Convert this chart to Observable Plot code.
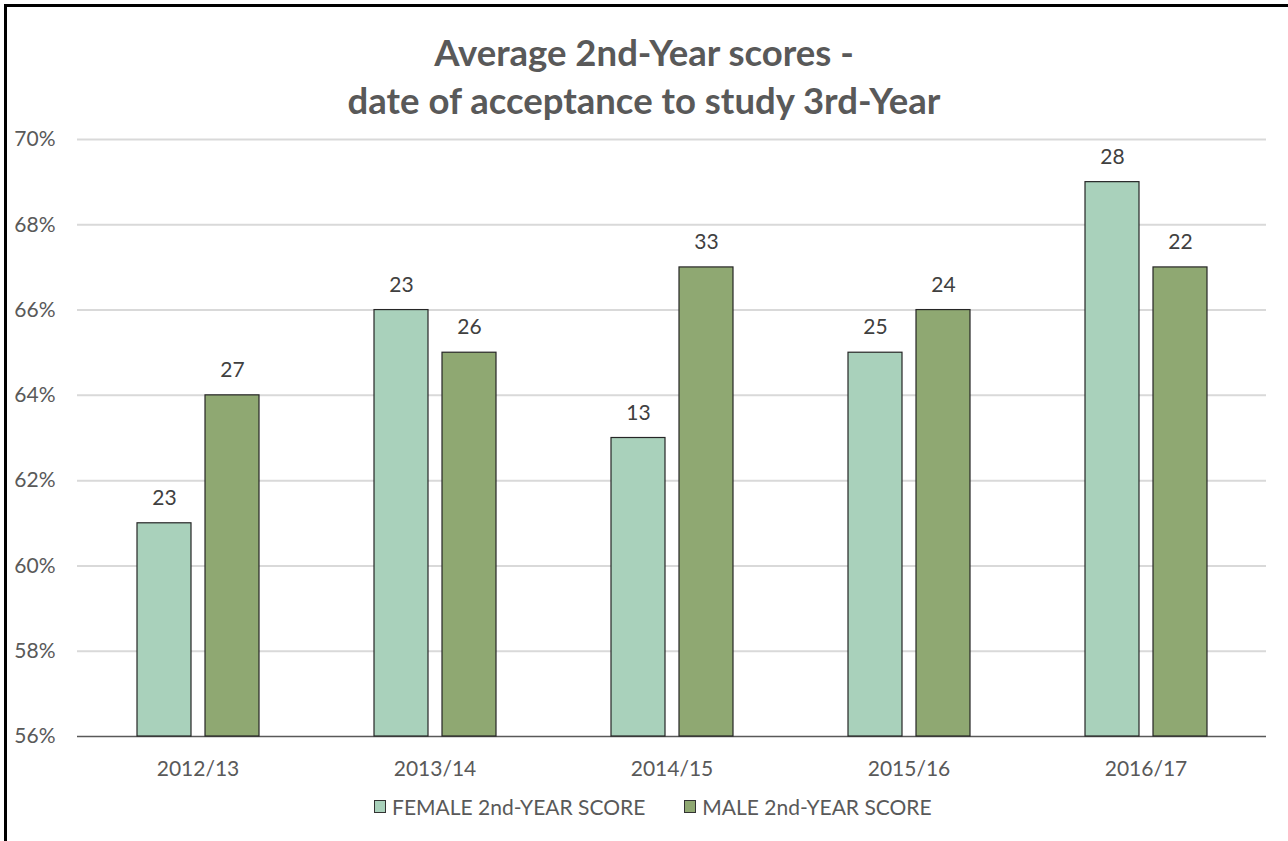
<!DOCTYPE html>
<html>
<head>
<meta charset="utf-8">
<script src="https://cdn.jsdelivr.net/npm/d3@7"></script>
<script src="https://cdn.jsdelivr.net/npm/@observablehq/plot@0.6"></script>
<style>
  html, body { margin: 0; padding: 0; background: #fff; }
  #wrap { position: relative; width: 1288px; height: 841px; overflow: hidden; font-family: Lato, "Open Sans", sans-serif; }
  #frame { position: absolute; left: 4px; top: 4px; width: 1400px; height: 1000px; border-left: 3px solid #000; border-top: 3px solid #000; box-sizing: border-box; }
  #title { position: absolute; left: 0; top: 28px; width: 1288px; text-align: center; font-size: 36.5px; font-weight: bold; color: #595959; line-height: 48px; white-space: nowrap; }
  .layer { position: absolute; left: 0; top: 125px; }
  #legend { position: absolute; left: 374px; top: 793px; height: 26px; display: flex; align-items: center; font-size: 21px; color: #595959; white-space: nowrap; }
  .sw { width: 10px; height: 11px; border: 1px solid #333; margin-right: 6px; }
  .item { display: flex; align-items: center; }
  .item + .item { margin-left: 39px; }
</style>
</head>
<body>
<div id="wrap">
  <div id="frame"></div>
  <div id="title">Average 2nd-Year scores -<br>date of acceptance to study 3rd-Year</div>
  <div id="bg" class="layer"></div>
  <div id="fg" class="layer"></div>
  <div id="legend"></div>
</div>
<script>
const years = ["2012/13", "2013/14", "2014/15", "2015/16", "2016/17"];
const seriesNames = ["FEMALE 2nd-YEAR SCORE", "MALE 2nd-YEAR SCORE"];
const femaleScores = [61, 66, 63, 65, 69];
const maleScores = [64, 65, 67, 66, 67];
const femaleLabels = [23, 23, 13, 25, 28];
const maleLabels = [27, 26, 33, 24, 22];
const yTicks = [56, 58, 60, 62, 64, 66, 68, 70];
const colors = ["#a9d1bb", "#8fa872"];

const rows = [];
years.forEach((yr, i) => {
  rows.push({year: yr, series: seriesNames[0], score: femaleScores[i], label: femaleLabels[i]});
  rows.push({year: yr, series: seriesNames[1], score: maleScores[i], label: maleLabels[i]});
});

const yMin = yTicks[0], yMax = yTicks[yTicks.length - 1];
const frame = {
  width: 1288,
  height: 660,
  marginLeft: 77,
  marginRight: 22,
  marginTop: 14,
  marginBottom: 49,
  style: {fontFamily: "Lato, 'Open Sans', sans-serif", background: "transparent", overflow: "visible"}
};

// Background layer: gridlines, axes, baseline
const bg = Plot.plot({
  ...frame,
  x: {type: "band", domain: years, padding: 0, axis: null},
  y: {domain: [yMin, yMax], axis: null},
  marks: [
    Plot.ruleY(yTicks.slice(1), {stroke: "#d9d9d9", strokeWidth: 2}),
    Plot.axisY(yTicks, {tickSize: 0, tickPadding: 22, tickFormat: d => d + "%", fontSize: 21, fill: "#595959", label: null}),
    Plot.axisX(years, {anchor: "bottom", tickSize: 0, tickPadding: 25, fontSize: 21, fill: "#595959", label: null}),
    Plot.ruleY([yMin], {stroke: "#595959", strokeWidth: 1.5})
  ]
});
document.getElementById("bg").appendChild(bg);

// Foreground layer: grouped bars and labels
const fg = Plot.plot({
  ...frame,
  fx: {domain: years, paddingInner: 0.487, paddingOuter: 0.2435, axis: null, label: null},
  x: {domain: seriesNames, paddingInner: 0.206, paddingOuter: 0, axis: null},
  y: {domain: [yMin, yMax], axis: null},
  color: {domain: seriesNames, range: colors},
  marks: [
    Plot.barY(rows, {fx: "year", x: "series", y1: () => yMin, y2: "score", fill: "series", stroke: "#262626", strokeWidth: 1.2}),
    Plot.text(rows, {fx: "year", x: "series", y: "score", text: "label", dy: -25, fontSize: 21, fill: "#404040"})
  ]
});
document.getElementById("fg").appendChild(fg);

const legend = document.getElementById("legend");
seriesNames.forEach((name, i) => {
  const item = document.createElement("div");
  item.className = "item";
  const sw = document.createElement("div");
  sw.className = "sw";
  sw.style.background = colors[i];
  const t = document.createElement("span");
  t.textContent = name;
  item.appendChild(sw);
  item.appendChild(t);
  legend.appendChild(item);
});
</script>
</body>
</html>
